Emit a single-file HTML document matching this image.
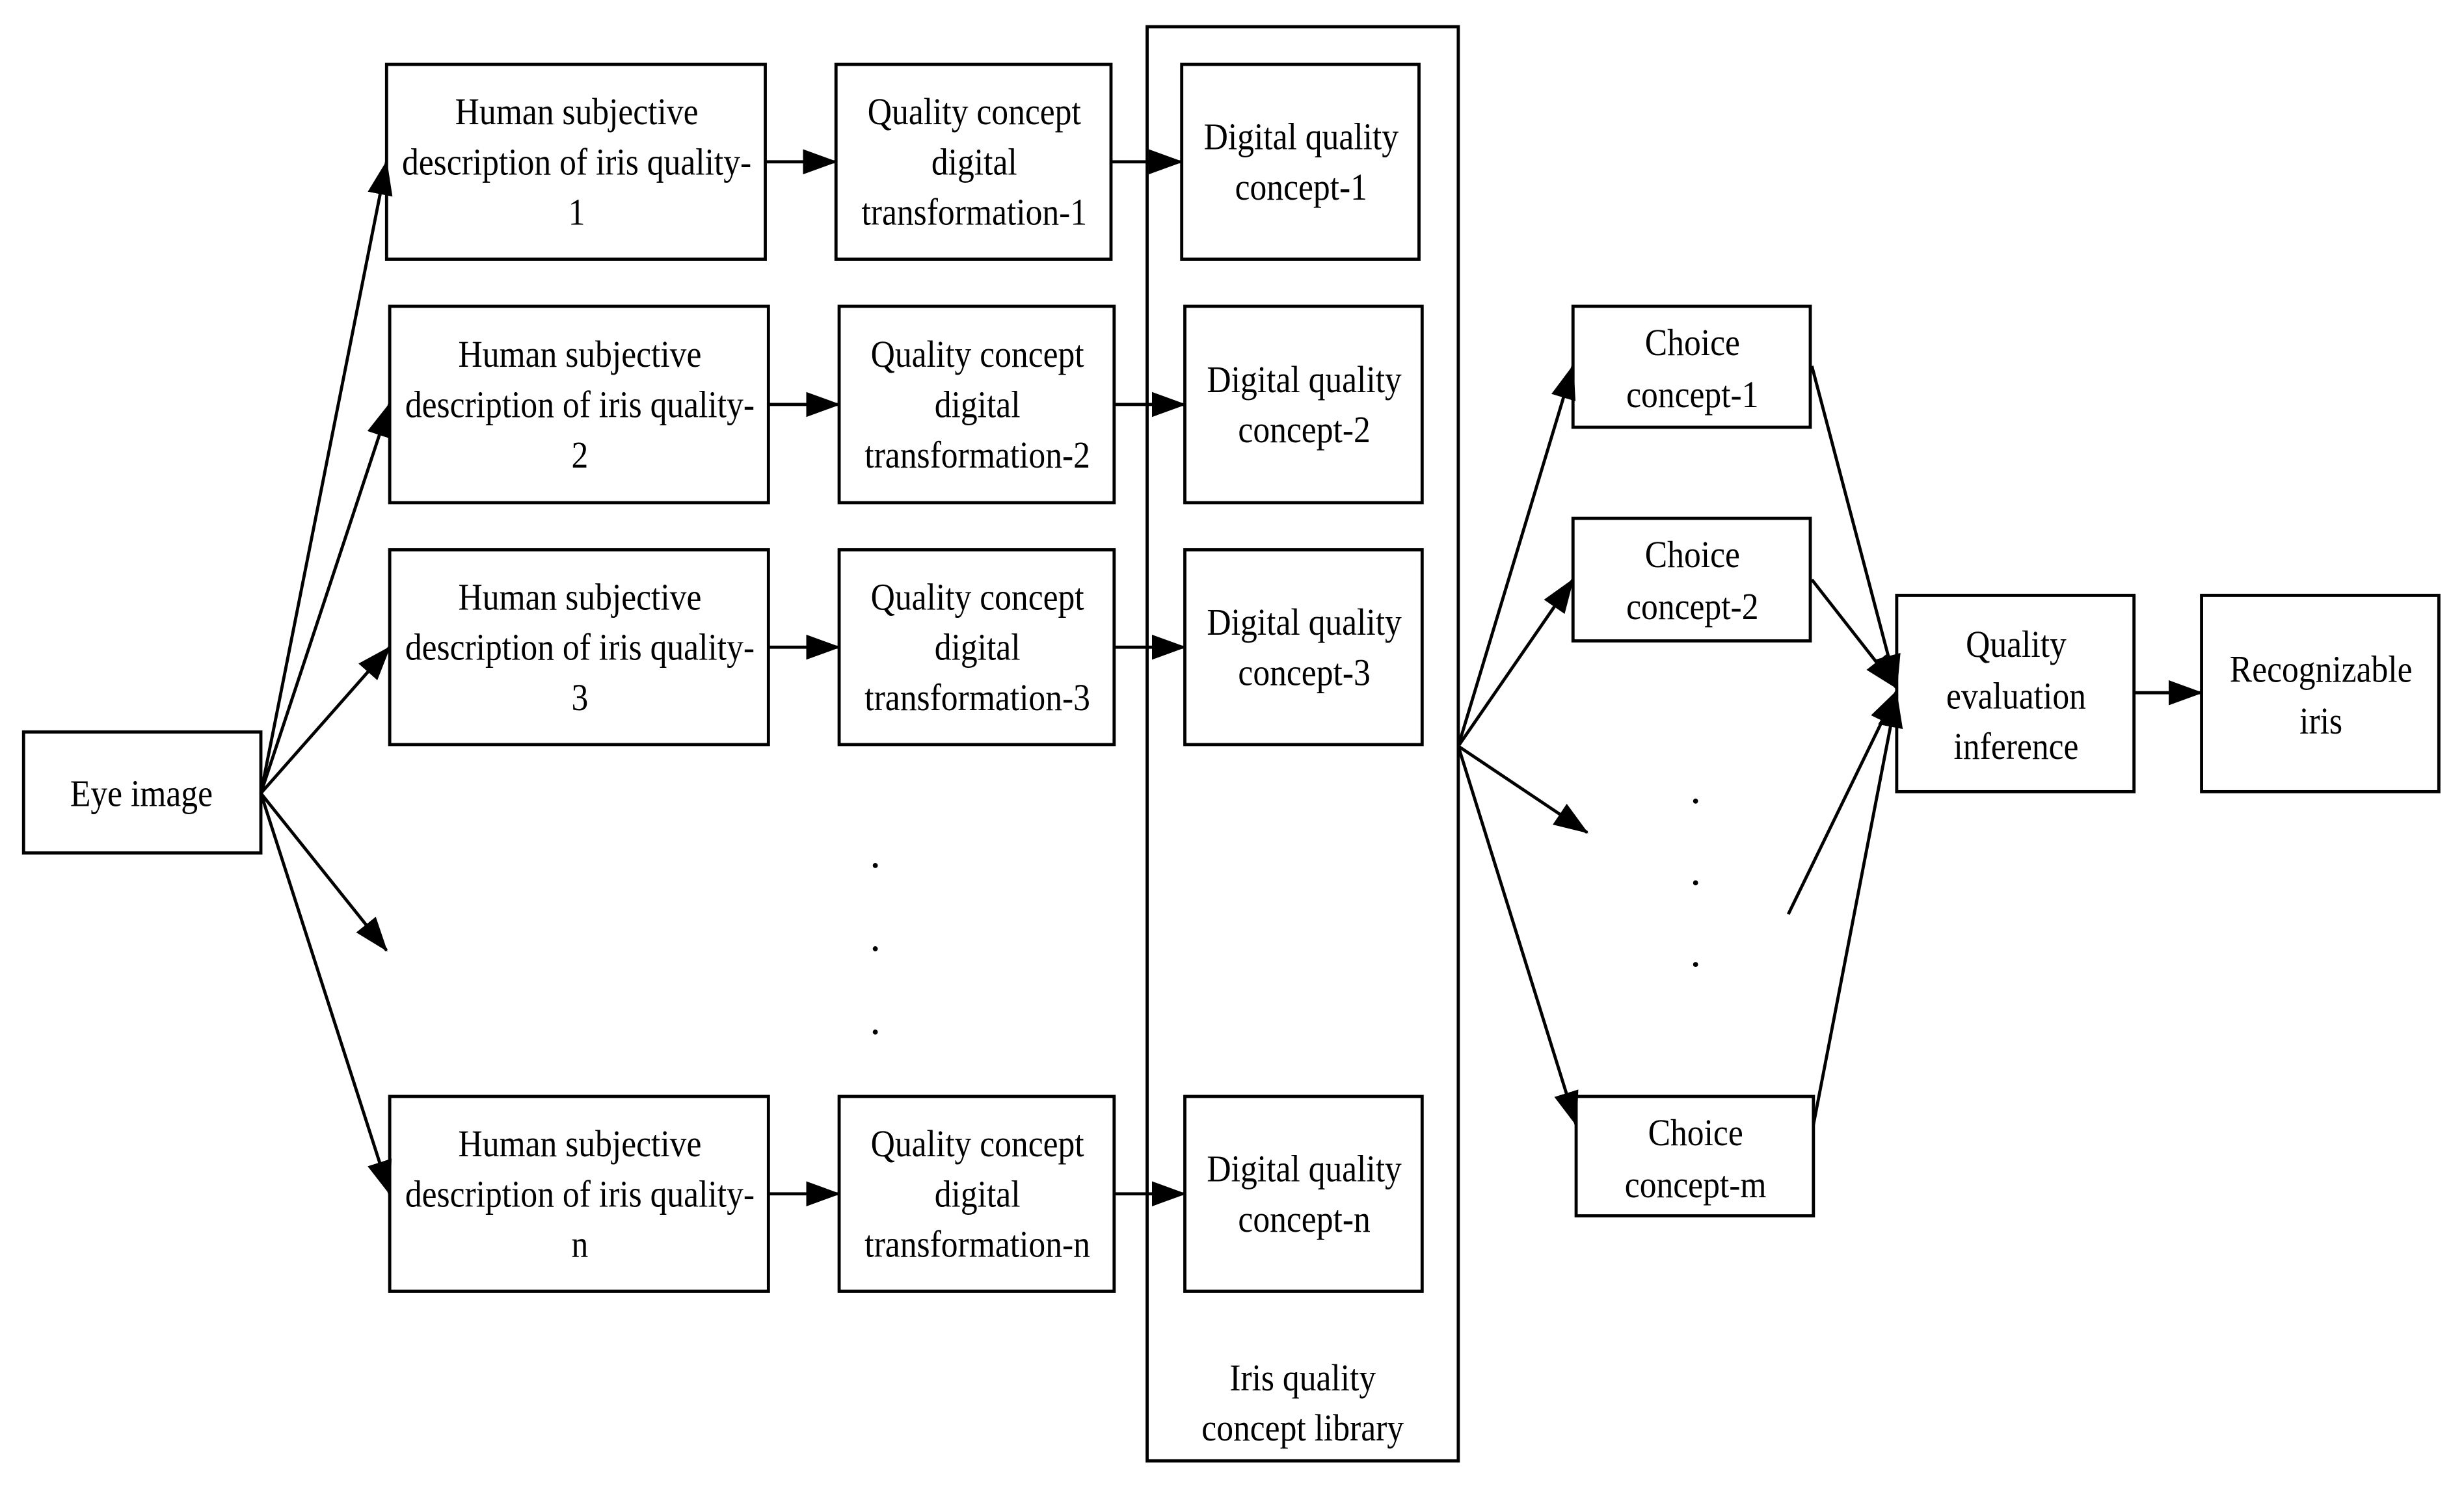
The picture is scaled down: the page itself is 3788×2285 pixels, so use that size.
<!DOCTYPE html>
<html><head><meta charset="utf-8"><style>
html,body{margin:0;padding:0;background:#fff}
svg{display:block}
text{font-family:"Liberation Serif",serif;font-size:24px;fill:#000}
</style></head><body>
<svg id="s" width="3788" height="2285" viewBox="0 0 1568 946" preserveAspectRatio="none" xmlns="http://www.w3.org/2000/svg">
<defs><marker id="a" markerWidth="22" markerHeight="16" refX="21" refY="8" orient="auto" markerUnits="userSpaceOnUse"><path d="M0,0 L22,8 L0,16 Z" fill="#000"/></marker></defs>
<rect width="1568" height="946" fill="#fff"/>
<g id="g" fill="none" stroke="#000" stroke-width="2"></g>
<g id="t"></g>
</svg>
<script>
const g=document.getElementById('g'),t=document.getElementById('t');
const NS='http://www.w3.org/2000/svg';
function R(x1,y1,x2,y2){const r=document.createElementNS(NS,'rect');r.setAttribute('x',x1);r.setAttribute('y',y1);r.setAttribute('width',x2-x1);r.setAttribute('height',y2-y1);g.appendChild(r);}
function L(x1,y1,x2,y2,arrow=true){const l=document.createElementNS(NS,'line');l.setAttribute('x1',x1);l.setAttribute('y1',y1);l.setAttribute('x2',x2);l.setAttribute('y2',y2);if(arrow)l.setAttribute('marker-end','url(#a)');g.appendChild(l);}
function T(cx,ys,lines){lines.forEach((s,i)=>{const e=document.createElementNS(NS,'text');e.setAttribute('x',cx);e.setAttribute('y',ys[i]);e.setAttribute('text-anchor','middle');e.setAttribute('dominant-baseline','central');e.setAttribute('transform',`matrix(0.89 0 0 1 ${(0.11*cx).toFixed(2)} 0)`);e.textContent=s;t.appendChild(e);});}
function D(x,y){const c=document.createElementNS(NS,'circle');c.setAttribute('cx',x);c.setAttribute('cy',y);c.setAttribute('r',1.6);c.setAttribute('fill','#000');t.appendChild(c);}
R(15,466,166,543);T(90,[505],['Eye image']);
const rows=[[41,165,'1',246,532,752],[195,320,'2',248,534,754],[350,474,'3',248,534,754],[698,822,'n',248,534,754]];
rows.forEach(([y1,y2,n,ax,bx,cx])=>{
 const m=(y1+y2)/2;
 R(ax,y1,ax+241,y2);T(ax+121,[m-32,m,m+32],['Human subjective','description of iris quality-',n]);
 R(bx,y1,bx+175,y2);T(bx+88,[m-32,m,m+32],['Quality concept','digital','transformation-'+n]);
 R(cx,y1,cx+151,y2);T(cx+76,[m-16,m+16],['Digital quality','concept-'+n]);
 L(ax+241,m,bx,m);L(bx+175,m,cx,m);
});
R(730,17,928,930);T(829,[877,909],['Iris quality','concept library']);
L(166,505,246,103);L(166,505,248,257);L(166,505,248,412);L(166,505,246,605);L(166,505,248,760);
D(557,551);D(557,604);D(557,657);
R(1001,195,1152,272);T(1077,[218,251],['Choice','concept-1']);
R(1001,330,1152,408);T(1077,[353,386],['Choice','concept-2']);
R(1003,698,1154,774);T(1079,[721,754],['Choice','concept-m']);
D(1079,510);D(1079,562);D(1079,614);
L(928,475,1001,233);L(928,475,1001,369);L(928,475,1010,530);L(928,475,1003,716);
R(1207,379,1358,504);T(1283,[410,443,475],['Quality','evaluation','inference']);
R(1401,379,1552,504);T(1477,[426,459],['Recognizable','iris']);
L(1153,233,1207,438);L(1153,369,1207,438);L(1138,582,1207,440);L(1154,716,1207,442);
L(1358,441,1401,441);
</script>
</body></html>
